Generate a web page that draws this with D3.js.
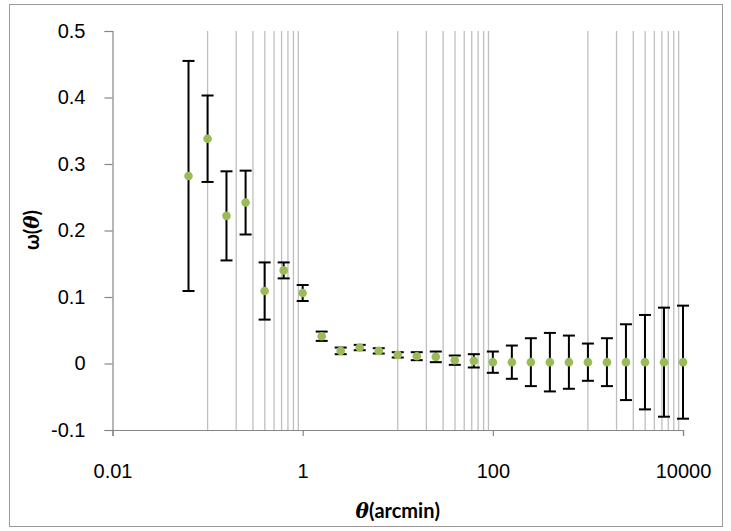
<!DOCTYPE html>
<html>
<head>
<meta charset="utf-8">
<script src="https://cdn.jsdelivr.net/npm/d3@7"></script>
<style>
  body { margin: 0; background: #fff; }
  svg { font-family: Lato, "Open Sans", sans-serif; }
</style>
</head>
<body>
<svg width="731" height="531"></svg>
<script>
// angular separation (arcmin)
const theta = [0.063, 0.1, 0.158, 0.251, 0.398, 0.631, 1, 1.585, 2.512, 3.981, 6.31, 10,
  15.85, 25.12, 39.81, 63.1, 100, 158.5, 251.2, 398.1, 631, 1000, 1585, 2512, 3981, 6310, 10000];
// correlation function values
const omega = [0.282, 0.338, 0.222, 0.242, 0.109, 0.140, 0.106, 0.041, 0.019, 0.024, 0.019, 0.013,
  0.011, 0.010, 0.005, 0.004, 0.002, 0.002, 0.002, 0.002, 0.002, 0.002, 0.002, 0.002, 0.002, 0.002, 0.002];
// error bar half-lengths
const omegaErr = [0.173, 0.065, 0.067, 0.048, 0.043, 0.012, 0.012, 0.007, 0.005, 0.004, 0.004, 0.004,
  0.006, 0.008, 0.007, 0.010, 0.016, 0.025, 0.036, 0.044, 0.040, 0.028, 0.036, 0.057, 0.071, 0.082, 0.085];

const xTicks = [0.01, 1, 100, 10000];
const yTicks = [-0.1, 0, 0.1, 0.2, 0.3, 0.4, 0.5];
const gridVals = [0.1, 0.2, 0.3, 0.4, 0.5, 0.6, 0.7, 0.8, 0.9,
  10, 20, 30, 40, 50, 60, 70, 80, 90,
  1000, 2000, 3000, 4000, 5000, 6000, 7000, 8000, 9000];

const data = theta.map((t, i) => ({ t, w: omega[i], e: omegaErr[i] }));

const margin = { top: 31, right: 48, bottom: 101, left: 112.5 },
      width = 731 - margin.left - margin.right,
      height = 531 - margin.top - margin.bottom;

const root = d3.select("svg");

// chart border
root.append("rect")
  .attr("x", 9.5).attr("y", 4.5)
  .attr("width", 713).attr("height", 522)
  .attr("fill", "none")
  .attr("stroke", "#9a9a9a")
  .attr("stroke-width", 1);

const svg = root.append("g")
  .attr("transform", `translate(${margin.left},${margin.top})`);

const x = d3.scaleLog()
  .domain([0.01, 10000])
  .range([0, width]);

const y = d3.scaleLinear()
  .domain([-0.1, 0.5])
  .range([height, 0]);

// vertical gridlines
svg.append("g")
  .selectAll("line")
  .data(gridVals)
  .enter()
  .append("line")
  .attr("x1", d => x(d)).attr("x2", d => x(d))
  .attr("y1", 0).attr("y2", height)
  .attr("stroke", "#bfbfbf")
  .attr("stroke-width", 1.3);

// axes
const xAxis = svg.append("g")
  .attr("transform", `translate(0,${height})`)
  .call(d3.axisBottom(x).tickValues(xTicks).tickFormat(d3.format("")).tickSize(6).tickPadding(28));

const yAxis = svg.append("g")
  .call(d3.axisLeft(y).tickValues(yTicks)
    .tickFormat(d => d === 0 ? "0" : d3.format(".1f")(d).replace("\u2212", "-"))
    .tickSize(8).tickPadding(19));

[xAxis, yAxis].forEach(a => {
  a.select(".domain").attr("stroke", "#868686").attr("stroke-width", 1.2);
  a.selectAll(".tick line").attr("stroke", "#868686").attr("stroke-width", 1.2);
  a.selectAll("text").attr("fill", "#000").style("font-size", "20px");
});

// error bars
const eb = svg.append("g")
  .selectAll("g")
  .data(data)
  .enter()
  .append("g")
  .attr("stroke", "#000")
  .attr("stroke-width", 2);

eb.append("line")
  .attr("x1", d => x(d.t)).attr("x2", d => x(d.t))
  .attr("y1", d => y(d.w + d.e)).attr("y2", d => y(d.w - d.e));
eb.append("line")
  .attr("x1", d => x(d.t) - 6).attr("x2", d => x(d.t) + 6)
  .attr("y1", d => y(d.w + d.e)).attr("y2", d => y(d.w + d.e));
eb.append("line")
  .attr("x1", d => x(d.t) - 6).attr("x2", d => x(d.t) + 6)
  .attr("y1", d => y(d.w - d.e)).attr("y2", d => y(d.w - d.e));

// points
svg.append("g")
  .selectAll("circle")
  .data(data)
  .enter()
  .append("circle")
  .attr("cx", d => x(d.t))
  .attr("cy", d => y(d.w))
  .attr("r", 4.3)
  .attr("fill", "#9bbb59");

// axis titles
svg.append("text")
  .attr("x", width / 2)
  .attr("y", height + 88)
  .attr("text-anchor", "middle")
  .style("font-size", "20px")
  .style("font-weight", "bold")
  .html('<tspan font-style="italic" font-family="DejaVu Serif">θ</tspan>(arcmin)');

root.append("text")
  .attr("transform", "translate(39,230) rotate(-90)")
  .attr("text-anchor", "middle")
  .style("font-size", "20px")
  .style("font-weight", "bold")
  .html('ω(<tspan font-style="italic" font-family="DejaVu Serif">θ</tspan>)');
</script>
</body>
</html>
